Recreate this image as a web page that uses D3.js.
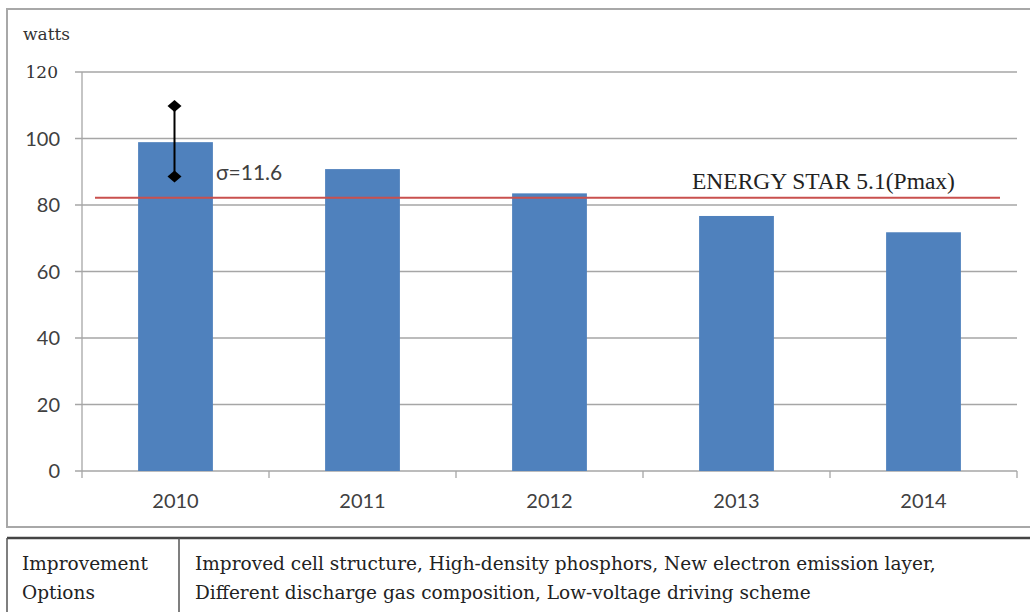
<!DOCTYPE html>
<html><head><meta charset="utf-8">
<script src="https://cdn.jsdelivr.net/npm/d3@7"></script>
<style>body{margin:0;background:#fff}svg{display:block}</style>
</head><body>
<script>
const years = ["2010","2011","2012","2013","2014"];
const watts = [98.9, 90.8, 83.5, 76.7, 71.8];
const yTicks = [0, 20, 40, 60, 80, 100, 120];
const errorBar = {year:"2010", high:109.8, low:88.6};
const sigmaLabel = "σ=11.6";
const energyStarValue = 82.2;
const energyStarLabel = "ENERGY STAR 5.1(Pmax)";
const unitLabel = "watts";
const tableHeader = ["Improvement", "Options"];
const tableText = ["Improved cell structure, High-density phosphors, New electron emission layer,",
                   "Different discharge gas  composition, Low-voltage driving scheme"];

const W = 1030, H = 612;
const svg = d3.select("body").append("svg").attr("width", W).attr("height", H);
svg.append("rect").attr("width", W).attr("height", H).attr("fill", "#fff");

const L = 82, R = 1017, T = 72, B = 471;
const x = d3.scaleBand().domain(years).range([L, R]).paddingInner(0.6).paddingOuter(0.3);
const y = d3.scaleLinear().domain([0, 120]).range([B, T]);

// chart border
svg.append("rect").attr("x", 7).attr("y", 9).attr("width", W + 10).attr("height", 518)
  .attr("fill", "none").attr("stroke", "#a8a8a8").attr("stroke-width", 2);

// gridlines
svg.append("g").selectAll("line").data(yTicks).join("line")
  .attr("x1", L - 7).attr("x2", R).attr("y1", d => y(d)).attr("y2", d => y(d))
  .attr("stroke", "#a6a6a6").attr("stroke-width", 1.3);

// y axis line
svg.append("line").attr("x1", L).attr("x2", L).attr("y1", y(120)).attr("y2", B)
  .attr("stroke", "#a6a6a6").attr("stroke-width", 1.3);

// x ticks
const step = x.step();
const xt = d3.range(years.length + 1).map(i => L + i * step);
svg.append("g").selectAll("line").data(xt).join("line")
  .attr("x1", d => d).attr("x2", d => d).attr("y1", B).attr("y2", B + 7)
  .attr("stroke", "#a6a6a6").attr("stroke-width", 1.3);

// y labels
svg.append("g").selectAll("text").data(yTicks.filter(d => d < 120)).join("text")
  .attr("x", 60).attr("y", d => y(d) + 7).attr("text-anchor", "end")
  .attr("font-family", "Lato, sans-serif").attr("font-size", 20).attr("fill", "#404040")
  .text(d => d);
svg.append("text").attr("x", 58).attr("y", y(120) + 6).attr("text-anchor", "end")
  .attr("font-family", "'DejaVu Serif', serif").attr("font-size", 17).attr("fill", "#333")
  .text(yTicks[yTicks.length - 1]);
svg.append("text").attr("x", 23).attr("y", 40)
  .attr("font-family", "'DejaVu Serif', serif").attr("font-size", 17).attr("fill", "#333")
  .text(unitLabel);

// x labels
svg.append("g").selectAll("text").data(years).join("text")
  .attr("x", d => x(d) + x.bandwidth() / 2).attr("y", 508).attr("text-anchor", "middle")
  .attr("font-family", "Lato, sans-serif").attr("font-size", 20).attr("fill", "#404040")
  .text(d => d);

// bars
svg.append("g").selectAll("rect").data(years).join("rect")
  .attr("x", d => x(d)).attr("width", x.bandwidth())
  .attr("y", (d, i) => y(watts[i])).attr("height", (d, i) => B - y(watts[i]))
  .attr("fill", "#4f81bd");

// energy star line
svg.append("line").attr("x1", L + 13).attr("x2", R - 17)
  .attr("y1", y(energyStarValue)).attr("y2", y(energyStarValue))
  .attr("stroke", "#c9504e").attr("stroke-width", 2);
svg.append("text").attr("x", 692).attr("y", y(energyStarValue) - 9)
  .attr("font-family", "'Liberation Serif', serif").attr("font-size", 23.5).attr("fill", "#222")
  .text(energyStarLabel);

// error bar
const ex = x(errorBar.year) + x.bandwidth() / 2 - 1;
svg.append("line").attr("x1", ex).attr("x2", ex)
  .attr("y1", y(errorBar.high)).attr("y2", y(errorBar.low))
  .attr("stroke", "#000").attr("stroke-width", 2);
svg.append("g").selectAll("path").data([errorBar.high, errorBar.low]).join("path")
  .attr("d", "M0,-6L7,0L0,6L-7,0Z")
  .attr("transform", d => `translate(${ex},${y(d)})`).attr("fill", "#000");
svg.append("text").attr("x", 216).attr("y", 180)
  .attr("font-family", "Lato, sans-serif").attr("font-size", 21).attr("fill", "#404040")
  .text(sigmaLabel);

// table
const tg = svg.append("g");
tg.append("line").attr("x1", 7).attr("x2", W).attr("y1", 538).attr("y2", 538)
  .attr("stroke", "#444").attr("stroke-width", 2.5);
tg.append("line").attr("x1", 7).attr("x2", 7).attr("y1", 538).attr("y2", H)
  .attr("stroke", "#555").attr("stroke-width", 1.5);
tg.append("line").attr("x1", 179).attr("x2", 179).attr("y1", 538).attr("y2", H)
  .attr("stroke", "#555").attr("stroke-width", 1.5);
tg.selectAll("text.h").data(tableHeader).join("text").attr("class", "h")
  .attr("x", 22).attr("y", (d, i) => 570 + i * 29)
  .attr("font-family", "'DejaVu Serif', serif").attr("font-size", 18.5).attr("fill", "#222")
  .text(d => d);
tg.selectAll("text.b").data(tableText).join("text").attr("class", "b")
  .attr("x", 195).attr("y", (d, i) => 570 + i * 29)
  .attr("font-family", "'DejaVu Serif', serif").attr("font-size", 18.5).attr("fill", "#222")
  .text(d => d);
</script>
</body></html>
